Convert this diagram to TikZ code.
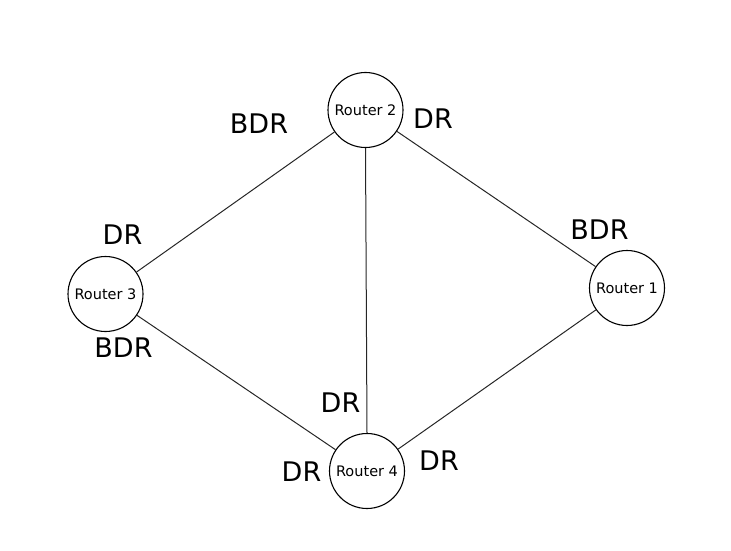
\documentclass[tikz,border=0pt]{standalone}
\usepackage{fontspec}
\setmainfont{DejaVu Sans}
\begin{document}
\begin{tikzpicture}[x=1pt,y=-1pt,
  router/.style={circle,draw=black,line width=1.1pt,minimum size=75pt,inner sep=0pt,font=\fontsize{14.5}{16}\selectfont},
  role/.style={inner sep=0pt,font=\fontsize{27}{30}\selectfont},
  link/.style={draw=black!85,line width=1pt}]
\useasboundingbox (0,0) rectangle (731,551);
\node[router] (r2) at (365.5,110) {Router 2};
\node[router] (r3) at (105.5,294) {Router 3};
\node[router] (r1) at (627,288) {Router 1};
\node[router] (r4) at (367,471) {Router 4};
\draw[link] (r2) -- (r3);
\draw[link] (r2) -- (r1);
\draw[link] (r2.south) -- (r4.north);
\draw[link] (r3) -- (r4);
\draw[link] (r1) -- (r4);
\node[role] (l1) at (259,124) {BDR};
\node[role] (l2) at (433,118.5) {DR};
\node[role] (l3) at (122.5,234.5) {DR};
\node[role] (l4) at (123.5,348) {BDR};
\node[role] (l5) at (340.5,403) {DR};
\node[role] (l6) at (301.5,472) {DR};
\node[role] (l7) at (439,461) {DR};
\node[role] (l8) at (599.5,230) {BDR};
\end{tikzpicture}
\end{document}
